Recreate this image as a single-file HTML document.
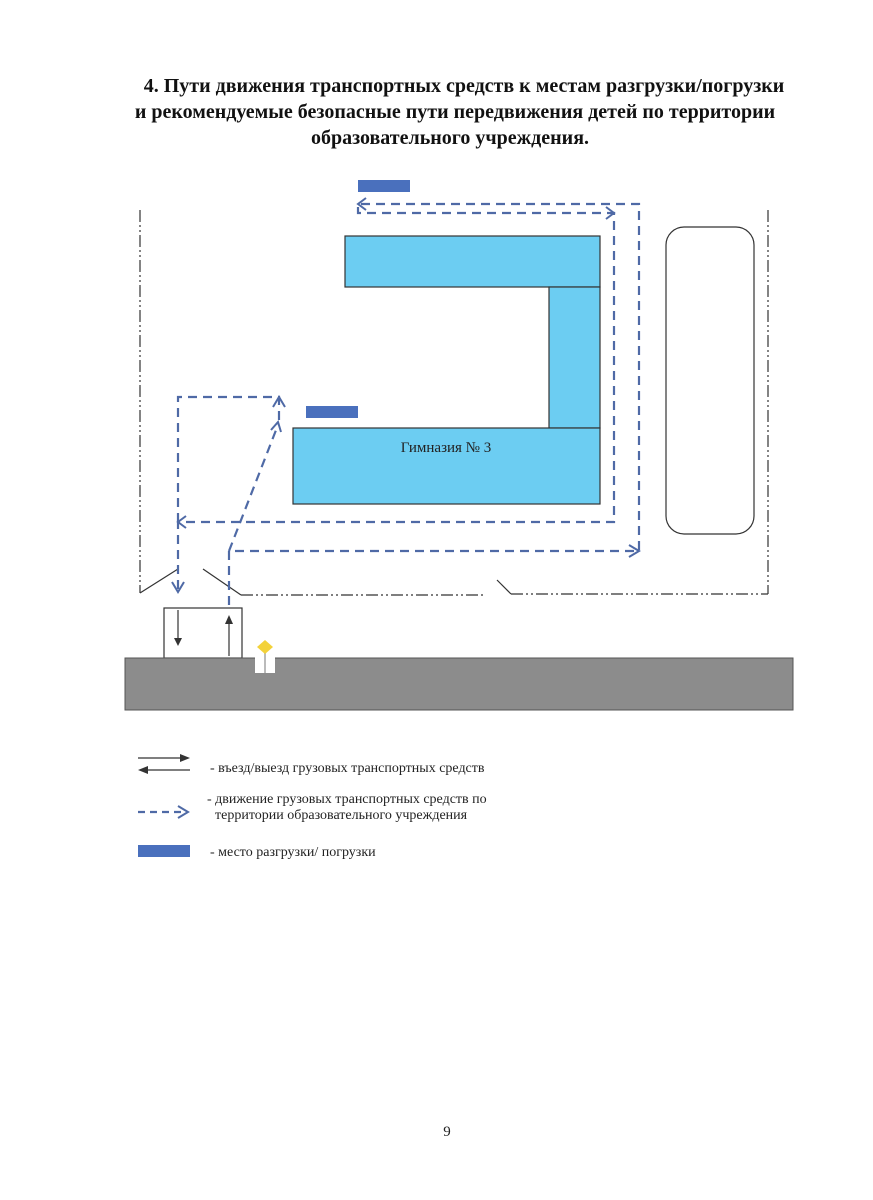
<!DOCTYPE html>
<html><head><meta charset="utf-8"><style>
body{margin:0;background:#fff;}
svg{display:block}
</style></head><body>
<svg width="873" height="1200" viewBox="0 0 873 1200" xmlns="http://www.w3.org/2000/svg" font-family="Liberation Serif, serif">
<rect width="873" height="1200" fill="#fff"/>
<g font-weight="bold" font-size="20" text-anchor="middle" fill="#111">
<text x="464" y="92">4. Пути движения транспортных средств к местам разгрузки/погрузки</text>
<text x="455" y="118">и рекомендуемые безопасные пути передвижения детей по территории</text>
<text x="450" y="144">образовательного учреждения.</text>
</g>
<g fill="#6ccdf2" stroke="#333" stroke-width="1.2">
<rect x="345" y="236" width="255" height="51"/>
<rect x="549" y="287" width="51" height="141"/>
<rect x="293" y="428" width="307" height="76"/>
</g>
<text x="446" y="452" font-size="15" text-anchor="middle" fill="#222">Гимназия № 3</text>
<g fill="#4a70bd">
<rect x="358" y="180" width="52" height="12"/>
<rect x="306" y="406" width="52" height="12"/>
<rect x="138" y="845" width="52" height="12"/>
</g>
<rect x="666" y="227" width="88" height="307" rx="18" fill="none" stroke="#333" stroke-width="1.2"/>
<g stroke="#333" stroke-width="1.2" fill="none" stroke-dasharray="12,3,2,3,2,3">
<line x1="140" y1="210" x2="140" y2="593"/>
<line x1="768" y1="210" x2="768" y2="594"/>
<line x1="241" y1="595" x2="483" y2="595"/>
<line x1="511" y1="594" x2="768" y2="594"/>
</g>
<g stroke="#333" stroke-width="1.2" fill="none">
<line x1="140" y1="593" x2="178" y2="569"/>
<line x1="203" y1="569" x2="241" y2="595"/>
<line x1="497" y1="580" x2="511" y2="594"/>
<rect x="164" y="608" width="78" height="50"/>
</g>
<rect x="125" y="658" width="668" height="52" fill="#8c8c8c" stroke="#555"/>
<rect x="255" y="655" width="20" height="18" fill="#fff"/>
<line x1="265" y1="652" x2="265" y2="673" stroke="#bbb" stroke-width="2"/>
<polygon points="265,640 273,647 265,654 257,647" fill="#f3d23a"/>
<g stroke="#4f6aa6" stroke-width="2.2" fill="none" stroke-dasharray="9,6">
<polyline points="229,605 229,551 639,551 639,204 358,204 358,213 614,213 614,522 178,522 178,590"/>
<polyline points="178,522 178,397 279,397 279,420"/>
<line x1="229" y1="551" x2="278" y2="425"/>
</g>
<g stroke="#4f6aa6" stroke-width="2" fill="none">
<polyline points="629,545 639,551 629,557"/>
<polyline points="366,198 358,204 366,210"/>
<polyline points="606,207 614,213 606,219"/>
<polyline points="186,516 178,522 186,528"/>
<polyline points="172,582 178,592 184,582"/>
<polyline points="273,407 279,397 285,407"/>
<polyline points="271,430 278,422 281,432"/>
</g>
<g stroke="#333" stroke-width="1.2">
<line x1="178" y1="610" x2="178" y2="640"/>
<line x1="229" y1="656" x2="229" y2="622"/>
</g>
<polygon points="174,638 182,638 178,646" fill="#333"/>
<polygon points="225,624 233,624 229,615" fill="#333"/>
<g stroke="#333" stroke-width="1.2">
<line x1="138" y1="758" x2="184" y2="758"/>
<line x1="144" y1="770" x2="190" y2="770"/>
</g>
<polygon points="190,758 180,754 180,762" fill="#333"/>
<polygon points="138,770 148,766 148,774" fill="#333"/>
<line x1="138" y1="812" x2="182" y2="812" stroke="#4f6aa6" stroke-width="2.2" stroke-dasharray="7,5"/>
<polyline points="178,806 188,812 178,818" stroke="#4f6aa6" stroke-width="2" fill="none"/>
<g font-size="14" fill="#222">
<text x="210" y="772">- въезд/выезд грузовых транспортных средств</text>
<text x="207" y="803">- движение грузовых транспортных средств по</text>
<text x="215" y="819">территории образовательного учреждения</text>
<text x="210" y="856">- место разгрузки/ погрузки</text>
</g>
<text x="447" y="1136" font-size="15" text-anchor="middle" fill="#222">9</text>
</svg>
</body></html>
